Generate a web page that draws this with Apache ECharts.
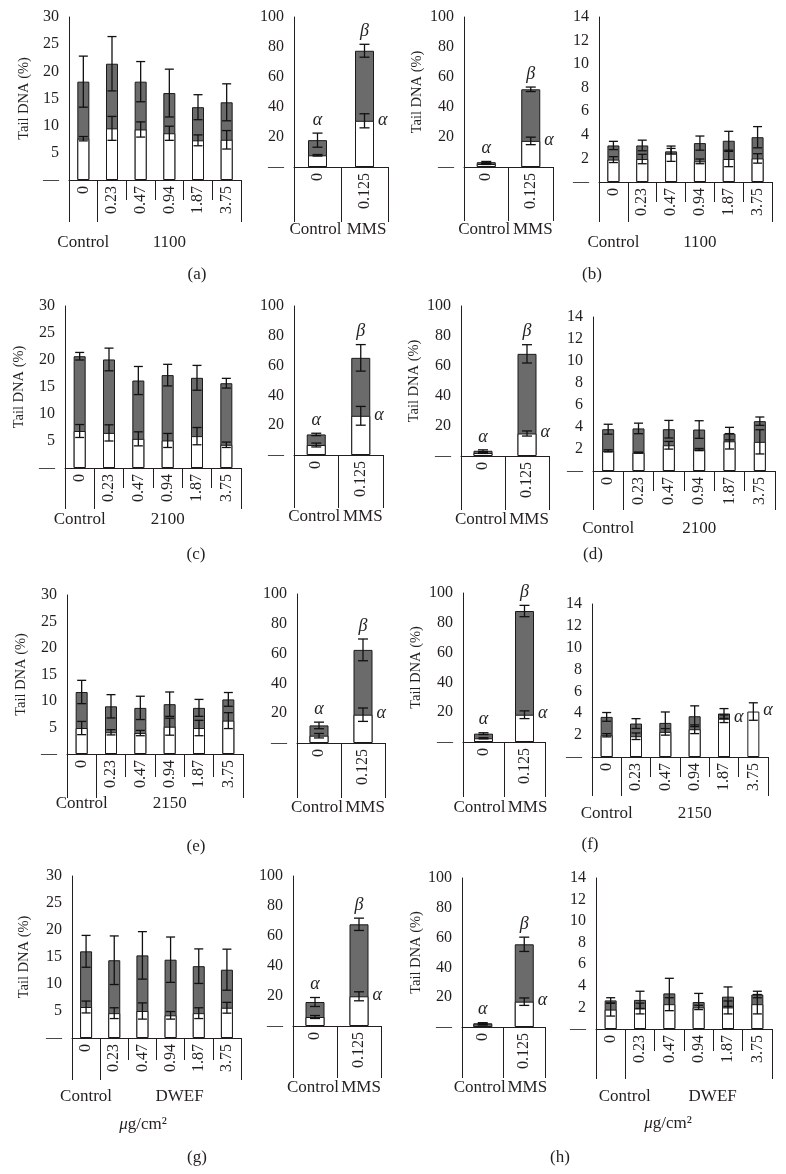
<!DOCTYPE html>
<html><head><meta charset="utf-8">
<script src="https://cdn.jsdelivr.net/npm/echarts@6/dist/echarts.min.js"></script>
<style>html,body{margin:0;padding:0;background:#fff}#c{width:786px;height:1174px}</style>
</head><body><div id="c"></div>
<script>
// ---------- categories / tick labels ----------
const doseCats = ['0', '0.23', '0.47', '0.94', '1.87', '3.75'];
const mmsCats = ['0', '0.125'];
const mmsGroups = ['Control', 'MMS'];
const groups1100 = ['Control', '', '', '1100', '', ''];
const groups2100 = ['Control', '', '', '2100', '', ''];
const groups2150 = ['Control', '', '', '2150', '', ''];
const groupsDWEF = ['Control', '', '', 'DWEF', '', ''];
const yDose = { max: 30, step: 5 };
const yMMS = { max: 100, step: 20 };
const yLow = { max: 14, step: 2 };
const mmsAbove = ['α', 'β'];
const mmsRight = ['', 'α'];
const noMarks = ['', '', '', '', '', ''];
const fRight = ['', '', '', '', 'α', 'α'];

// ---------- values (dark = total, white = base) ----------
// (a)
const a_dose_total = [18.1, 21.4, 18.1, 16.0, 13.4, 14.3];
const a_dose_totalErr = [4.7, 5.0, 3.7, 4.4, 2.3, 3.4];
const a_dose_base = [7.6, 9.5, 9.3, 8.6, 7.3, 7.4];
const a_dose_baseErr = [0.4, 2.2, 1.4, 1.3, 1.0, 1.7];
const a_mms_total = [17.9, 77.5];
const a_mms_totalErr = [4.7, 4.3];
const a_mms_base = [7.8, 30.8];
const a_mms_baseErr = [0.5, 4.7];
// (b)
const b_mms_total = [3.2, 51.8];
const b_mms_totalErr = [0.5, 1.5];
const b_mms_base = [2.0, 17.4];
const b_mms_baseErr = [0.3, 2.5];
const b_dose_total = [3.1, 3.1, 2.6, 3.3, 3.5, 3.8];
const b_dose_totalErr = [0.35, 0.45, 0.25, 0.6, 0.8, 0.9];
const b_dose_base = [1.9, 1.95, 2.4, 1.75, 1.95, 2.0];
const b_dose_baseErr = [0.25, 0.4, 0.65, 0.2, 0.65, 0.4];
// (c)
const c_dose_total = [20.7, 20.1, 16.2, 17.2, 16.7, 15.7];
const c_dose_totalErr = [0.7, 2.1, 2.6, 2.0, 2.3, 0.9];
const c_dose_base = [6.85, 6.5, 5.4, 5.1, 5.9, 4.3];
const c_dose_baseErr = [1.2, 1.5, 1.3, 1.3, 1.6, 0.5];
const c_mms_total = [13.8, 65.2];
const c_mms_totalErr = [0.8, 8.9];
const c_mms_base = [6.7, 26.3];
const c_mms_baseErr = [1.3, 6.3];
// (d)
const d_mms_total = [3.5, 68.1];
const d_mms_totalErr = [0.6, 6.1];
const d_mms_base = [2.0, 15.0];
const d_mms_baseErr = [0.3, 1.7];
const d_dose_total = [3.8, 3.87, 3.8, 3.77, 3.4, 4.53];
const d_dose_totalErr = [0.45, 0.48, 0.8, 0.8, 0.57, 0.38];
const d_dose_base = [1.83, 1.67, 2.34, 1.95, 2.7, 2.65];
const d_dose_baseErr = [0.1, 0.05, 0.35, 0.1, 0.7, 1.1];
// (e)
const e_dose_total = [11.7, 9.0, 8.7, 9.4, 8.7, 10.3];
const e_dose_totalErr = [2.2, 2.2, 2.2, 2.3, 1.6, 1.3];
const e_dose_base = [4.9, 4.1, 3.95, 5.15, 4.9, 6.3];
const e_dose_baseErr = [1.25, 0.5, 0.5, 1.6, 1.45, 1.5];
const e_mms_total = [11.8, 62.5];
const e_mms_totalErr = [2.2, 7.3];
const e_mms_base = [4.9, 19.0];
const e_mms_baseErr = [1.5, 4.5];
// (f)
const f_mms_total = [5.6, 87.9];
const f_mms_totalErr = [0.6, 3.8];
const f_mms_base = [2.5, 18.3];
const f_mms_baseErr = [0.4, 2.6];
const f_dose_total = [3.67, 3.06, 3.12, 3.73, 3.98, null];
const f_dose_totalErr = [0.4, 0.45, 1.0, 0.95, 0.45, null];
const f_dose_base = [1.99, 1.9, 2.3, 2.54, 3.5, 4.16];
const f_dose_baseErr = [0.15, 0.3, 0.3, 0.4, 0.35, 0.8];
// (g)
const g_dose_total = [16.05, 14.4, 15.3, 14.5, 13.3, 12.65];
const g_dose_totalErr = [2.95, 4.5, 4.4, 4.2, 3.2, 3.8];
const g_dose_base = [5.74, 4.6, 5.0, 4.2, 4.6, 5.6];
const g_dose_baseErr = [1.1, 1.0, 1.5, 0.7, 1.0, 1.0];
const g_mms_total = [16.0, 67.8];
const g_mms_totalErr = [3.0, 4.1];
const g_mms_base = [6.0, 19.8];
const g_mms_baseErr = [1.0, 3.0];
// (h)
const h_mms_total = [2.5, 55.5];
const h_mms_totalErr = [0.4, 4.8];
const h_mms_base = [1.6, 17.0];
const h_mms_baseErr = [0.3, 2.5];
const h_dose_total = [2.65, 2.7, 3.3, 2.5, 3.0, 3.2];
const h_dose_totalErr = [0.25, 0.8, 1.4, 0.8, 0.9, 0.3];
const h_dose_base = [1.8, 1.9, 2.3, 2.0, 2.0, 2.3];
const h_dose_baseErr = [0.6, 0.5, 0.6, 0.2, 0.6, 0.9];

// ---------- styles ----------
const FONT = '"Liberation Serif","Times New Roman",serif';
const INK = '#231f20';
const DARK = '#6b6b6b';
const TITLE = 'Tail DNA (%)';
const MMS_DX = [-2, 2];

// ---------- panel definitions (layout kept separate from values) ----------
function P(cats, groups, y, total, totalErr, base, baseErr, above, right, L) {
  return { cats, groups, y, total, totalErr, base, baseErr, above, right, L };
}
const PANELS = [
  P(doseCats, groups1100, yDose, a_dose_total, a_dose_totalErr, a_dose_base, a_dose_baseErr, noMarks, noMarks,
    { left: 69, right: 241, top: 17, bottom: 180, long: 42, short: 20, gm: 54, name: 37, bw: 12 }),
  P(mmsCats, mmsGroups, yMMS, a_mms_total, a_mms_totalErr, a_mms_base, a_mms_baseErr, mmsAbove, mmsRight,
    { left: 294, right: 388, top: 17, bottom: 167, long: 55, short: 0, gm: 54, bw: 19, gdx: MMS_DX }),
  P(mmsCats, mmsGroups, yMMS, b_mms_total, b_mms_totalErr, b_mms_base, b_mms_baseErr, mmsAbove, mmsRight,
    { left: 464, right: 553, top: 17, bottom: 167, long: 54, short: 0, gm: 54, name: 39, bw: 19, gdx: MMS_DX }),
  P(doseCats, groups1100, yLow, b_dose_total, b_dose_totalErr, b_dose_base, b_dose_baseErr, noMarks, noMarks,
    { left: 599, right: 772, top: 17, bottom: 182, long: 40, short: 20, gm: 52, bw: 12 }),

  P(doseCats, groups2100, yDose, c_dose_total, c_dose_totalErr, c_dose_base, c_dose_baseErr, noMarks, noMarks,
    { left: 65, right: 241, top: 306, bottom: 468, long: 41, short: 20, gm: 43, name: 38, bw: 12 }),
  P(mmsCats, mmsGroups, yMMS, c_mms_total, c_mms_totalErr, c_mms_base, c_mms_baseErr, mmsAbove, mmsRight,
    { left: 294, right: 383, top: 306, bottom: 455, long: 53, short: 0, gm: 53, bw: 19, gdx: MMS_DX }),
  P(mmsCats, mmsGroups, yMMS, d_mms_total, d_mms_totalErr, d_mms_base, d_mms_baseErr, mmsAbove, mmsRight,
    { left: 461, right: 549, top: 306, bottom: 456, long: 54, short: 0, gm: 55, name: 39, bw: 19, gdx: MMS_DX }),
  P(doseCats, groups2100, yLow, d_dose_total, d_dose_totalErr, d_dose_base, d_dose_baseErr, noMarks, noMarks,
    { left: 593, right: 775, top: 317, bottom: 471, long: 39, short: 20, gm: 49, bw: 12 }),

  P(doseCats, groups2150, yDose, e_dose_total, e_dose_totalErr, e_dose_base, e_dose_baseErr, noMarks, noMarks,
    { left: 67, right: 243, top: 595, bottom: 754, long: 44, short: 23, gm: 41, name: 38, bw: 12 }),
  P(mmsCats, mmsGroups, yMMS, e_mms_total, e_mms_totalErr, e_mms_base, e_mms_baseErr, mmsAbove, mmsRight,
    { left: 297, right: 385, top: 594, bottom: 743, long: 55, short: 0, gm: 56, bw: 19, gdx: MMS_DX }),
  P(mmsCats, mmsGroups, yMMS, f_mms_total, f_mms_totalErr, f_mms_base, f_mms_baseErr, mmsAbove, mmsRight,
    { left: 463, right: 545, top: 593, bottom: 742, long: 55, short: 0, gm: 57, name: 39, bw: 19, gdx: [-4, 3] }),
  P(doseCats, groups2150, yLow, f_dose_total, f_dose_totalErr, f_dose_base, f_dose_baseErr, noMarks, fRight,
    { left: 592, right: 768, top: 604, bottom: 757, long: 39, short: 20, gm: 48, bw: 12 }),

  P(doseCats, groupsDWEF, yDose, g_dose_total, g_dose_totalErr, g_dose_base, g_dose_baseErr, noMarks, noMarks,
    { left: 72, right: 241, top: 876, bottom: 1038, long: 42, short: 22, gm: 50, name: 40, bw: 12, gdx: [0, 0, 0, 9, 0, 0] }),
  P(mmsCats, mmsGroups, yMMS, g_mms_total, g_mms_totalErr, g_mms_base, g_mms_baseErr, mmsAbove, mmsRight,
    { left: 293, right: 381, top: 876, bottom: 1026, long: 52, short: 0, gm: 53, bw: 19, gdx: MMS_DX }),
  P(mmsCats, mmsGroups, yMMS, h_mms_total, h_mms_totalErr, h_mms_base, h_mms_baseErr, mmsAbove, mmsRight,
    { left: 462, right: 545, top: 878, bottom: 1027, long: 51, short: 0, gm: 52, name: 37, bw: 19, gdx: [-3, 3] }),
  P(doseCats, groupsDWEF, yLow, h_dose_total, h_dose_totalErr, h_dose_base, h_dose_baseErr, noMarks, noMarks,
    { left: 596, right: 772, top: 878, bottom: 1029, long: 50, short: 22, gm: 59, bw: 12, gdx: [14, 0, 0, 14, 0, 0] })
];

// ---------- builders ----------
const grids = [], xAxes = [], yAxes = [], series = [];

function errSeries(xi, yi, vals, errs, cap, z) {
  const data = [];
  vals.forEach((v, i) => { if (v != null && errs[i] != null) data.push([i, v, errs[i]]); });
  return {
    type: 'custom', xAxisIndex: xi, yAxisIndex: yi, z: z, silent: true, data: data,
    encode: { x: 0, y: 1 },
    renderItem: function (params, api) {
      const x = api.value(0), v = api.value(1), e = api.value(2);
      const p1 = api.coord([x, v + e]), p2 = api.coord([x, v - e]);
      const st = { stroke: '#111', lineWidth: 1.3 };
      return {
        type: 'group', children: [
          { type: 'line', shape: { x1: p1[0], y1: p1[1], x2: p2[0], y2: p2[1] }, style: st },
          { type: 'line', shape: { x1: p1[0] - cap, y1: p1[1], x2: p1[0] + cap, y2: p1[1] }, style: st },
          { type: 'line', shape: { x1: p2[0] - cap, y1: p2[1], x2: p2[0] + cap, y2: p2[1] }, style: st }
        ]
      };
    }
  };
}

function markSeries(xi, yi, p) {
  const marks = [];
  p.cats.forEach((c, i) => {
    if (p.above[i] && p.total[i] != null) marks.push({ i: i, y: p.total[i] + p.totalErr[i], text: p.above[i], mode: 'above' });
    if (p.right[i]) marks.push({ i: i, y: p.base[i], text: p.right[i], mode: 'right' });
  });
  return {
    type: 'custom', xAxisIndex: xi, yAxisIndex: yi, z: 6, silent: true,
    data: marks.map(m => [m.i, m.y]), encode: { x: 0, y: 1 },
    renderItem: function (params, api) {
      const m = marks[params.dataIndex];
      const pt = api.coord([api.value(0), api.value(1)]);
      const font = 'italic 18px ' + FONT;
      if (m.mode === 'above') {
        return { type: 'text', x: pt[0], y: pt[1] - 4, style: { text: m.text, font: font, fill: INK, align: 'center', verticalAlign: 'bottom' } };
      }
      return { type: 'text', x: pt[0] + p.L.bw / 2 + 4, y: pt[1] - 1, style: { text: m.text, font: font, fill: INK, align: 'left', verticalAlign: 'middle' } };
    }
  };
}

PANELS.forEach(function (p) {
  const L = p.L;
  const gi = grids.length;
  grids.push({ left: L.left, top: L.top, width: L.right - L.left, height: L.bottom - L.top, containLabel: false, outerBoundsMode: 'none' });
  const xi = xAxes.length;
  // inner category level
  xAxes.push({
    type: 'category', gridIndex: gi, data: p.cats, position: 'bottom',
    axisLine: { show: true, onZero: false, lineStyle: { color: INK, width: 1 } },
    axisTick: { show: L.short > 0, alignWithLabel: false, length: L.short, lineStyle: { color: INK, width: 1 } },
    axisLabel: { interval: 0, rotate: 90, margin: 6, fontFamily: FONT, fontSize: 16, color: INK },
    splitLine: { show: false }
  });
  // outer group level (shift of a label is done with rich-text padding)
  const gdx = L.gdx || [];
  const rich = {};
  p.groups.forEach(function (t, i) {
    const d = gdx[i] || 0;
    rich['g' + i] = { fontFamily: FONT, fontSize: 17, color: INK, padding: d >= 0 ? [0, 0, 0, 2 * d] : [0, -2 * d, 0, 0] };
  });
  xAxes.push({
    type: 'category', gridIndex: gi, data: p.cats, position: 'bottom', offset: 0,
    axisLine: { show: false },
    axisTick: { show: true, alignWithLabel: false, length: L.long, interval: function (i) { return i === 0 || i === 1; }, lineStyle: { color: INK, width: 1 } },
    axisLabel: {
      interval: 0, margin: L.gm, fontFamily: FONT, fontSize: 17, color: INK,
      formatter: function (v, i) {
        const t = p.groups[i];
        return t ? '{g' + i + '|' + t + '}' : '';
      },
      rich: rich
    },
    splitLine: { show: false }
  });
  yAxes.push({
    type: 'value', gridIndex: gi, min: 0, max: p.y.max, interval: p.y.step,
    axisLine: { show: true, lineStyle: { color: INK, width: 1 } },
    axisTick: { show: false }, splitLine: { show: false },
    axisLabel: { margin: 10, fontFamily: FONT, fontSize: 16, color: INK, formatter: function (v) { return v === 0 ? '—' : String(v); } },
    name: L.name ? TITLE : '', nameLocation: 'middle', nameGap: L.name || 0,
    nameTextStyle: { fontFamily: FONT, fontSize: 14.5, color: INK }
  });
  const cap = L.bw >= 19 ? 5 : 4.5;
  series.push({
    type: 'bar', xAxisIndex: xi, yAxisIndex: gi, z: 2, silent: true, barWidth: L.bw,
    data: p.total.map(v => v == null ? '-' : v),
    itemStyle: { color: DARK, borderColor: '#1a1a1a', borderWidth: 1 }
  });
  series.push(errSeries(xi, gi, p.total, p.totalErr, cap, 3));
  series.push({
    type: 'bar', xAxisIndex: xi, yAxisIndex: gi, z: 4, silent: true, barWidth: L.bw, barGap: '-100%',
    data: p.base,
    itemStyle: { color: '#ffffff', borderColor: '#1a1a1a', borderWidth: 1 }
  });
  series.push(errSeries(xi, gi, p.base, p.baseErr, cap, 5));
  series.push(markSeries(xi, gi, p));
});

function txt(x, y, t, extra) {
  return {
    type: 'text', x: x, y: y, z: 10,
    style: Object.assign({ text: t, font: '17px ' + FONT, fill: INK, align: 'center', verticalAlign: 'middle', textAlign: 'center', textVerticalAlign: 'middle' }, extra || {})
  };
}
const unitRich = { i: { fontStyle: 'italic', fontFamily: FONT, fontSize: 17, color: INK }, n: { fontFamily: FONT, fontSize: 17, color: INK } };
const graphic = [
  txt(197, 275, '(a)'), txt(592, 275, '(b)'),
  txt(196, 555, '(c)'), txt(593, 555, '(d)'),
  txt(196, 847, '(e)'), txt(590, 845, '(f)'),
  txt(197, 1158, '(g)'), txt(560, 1158, '(h)'),
  txt(143, 1125, '{i|μ}{n|g/cm²}', { rich: unitRich }),
  txt(668, 1124, '{i|μ}{n|g/cm²}', { rich: unitRich })
];

const chart = echarts.init(document.getElementById('c'), null, { renderer: 'canvas', width: 786, height: 1174 });
chart.setOption({
  animation: false,
  backgroundColor: '#ffffff',
  grid: grids, xAxis: xAxes, yAxis: yAxes, series: series, graphic: graphic
});
</script>
</body></html>
